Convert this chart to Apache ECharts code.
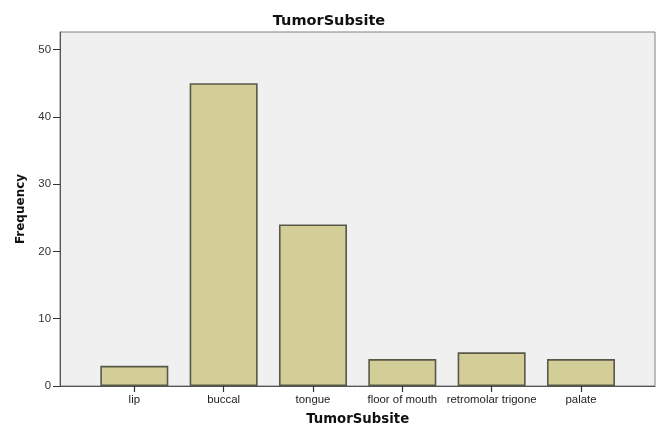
<!DOCTYPE html>
<html>
<head>
<meta charset="utf-8">
<script src="https://cdn.jsdelivr.net/npm/echarts@6/dist/echarts.min.js"></script>
<style>
  html, body { margin: 0; padding: 0; background: #fff; }
  #chart { width: 658px; height: 426px; }
</style>
</head>
<body>
<div id="chart"></div>
<script>
// data
const categories = ['lip', 'buccal', 'tongue', 'floor of mouth', 'retromolar trigone', 'palate'];
const frequency = [3, 45, 24, 4, 5, 4];
const yMax = 52.6;

const chart = echarts.init(document.getElementById('chart'));

const option = {
    animation: false,
    backgroundColor: '#ffffff',
    title: {
        text: 'TumorSubsite',
        left: 'center',
        top: 9,
        textStyle: {
            fontFamily: 'DejaVu Sans',
            fontWeight: 'bold',
            fontSize: 14.5,
            color: '#111'
        }
    },
    grid: [
        // frame + y axis
        {
            left: 60, top: 32, width: 595, height: 354,
            outerBoundsMode: 'none',
            containLabel: false,
            show: true,
            backgroundColor: '#f0f0f0',
            borderColor: '#808080',
            borderWidth: 1
        },
        // bars + category axis
        {
            left: 89.65, top: 32, width: 536, height: 354,
            outerBoundsMode: 'none',
            containLabel: false
        }
    ],
    xAxis: [
        {
            gridIndex: 0,
            type: 'value',
            min: 0, max: 1,
            axisLine: { show: true, lineStyle: { color: '#555', width: 1 } },
            axisTick: { show: false },
            axisLabel: { show: false },
            splitLine: { show: false }
        },
        {
            gridIndex: 1,
            type: 'category',
            data: categories,
            axisLine: { show: false },
            axisTick: {
                show: true,
                alignWithLabel: true,
                length: 6,
                lineStyle: { color: '#333', width: 1.2 }
            },
            axisLabel: {
                interval: 0,
                margin: 8,
                fontFamily: 'Liberation Sans',
                fontSize: 11.4,
                color: '#222'
            },
            name: 'TumorSubsite',
            nameLocation: 'middle',
            nameGap: 27,
            nameTextStyle: {
                fontFamily: 'DejaVu Sans',
                fontWeight: 'bold',
                fontSize: 13.3,
                color: '#111'
            }
        }
    ],
    yAxis: [
        {
            gridIndex: 0,
            type: 'value',
            min: 0,
            max: yMax,
            interval: 10,
            axisLine: { show: true, lineStyle: { color: '#555', width: 1 } },
            axisTick: { show: true, length: 7, lineStyle: { color: '#333' } },
            splitLine: { show: false },
            axisLabel: {
                margin: 9,
                fontFamily: 'Liberation Sans',
                fontSize: 11.4,
                color: '#333',
                showMaxLabel: false
            },
            name: 'Frequency',
            nameLocation: 'middle',
            nameGap: 33,
            nameTextStyle: {
                fontFamily: 'DejaVu Sans',
                fontWeight: 'bold',
                fontSize: 12,
                color: '#111'
            }
        },
        {
            gridIndex: 1,
            type: 'value',
            min: 0,
            max: yMax,
            show: false
        }
    ],
    series: [
        {
            name: 'Frequency',
            type: 'bar',
            xAxisIndex: 1,
            yAxisIndex: 1,
            data: frequency,
            barWidth: 68,
            itemStyle: {
                color: '#d3ce97',
                borderColor: '#58584a',
                borderWidth: 1.6
            }
        }
    ]
};

chart.setOption(option);
</script>
</body>
</html>
